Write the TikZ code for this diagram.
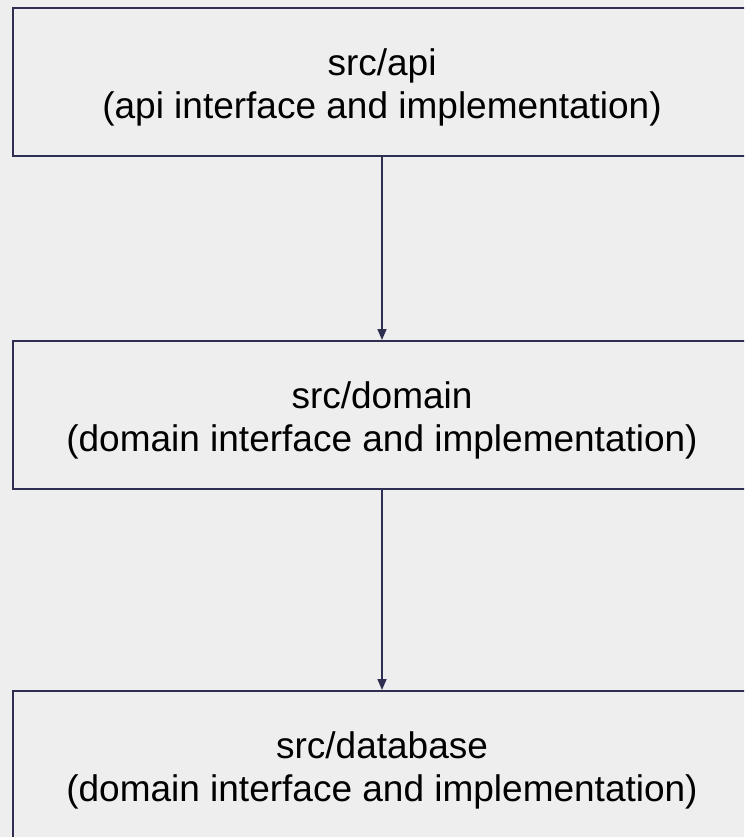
\documentclass[tikz,border=0pt]{standalone}
\usepackage{fontspec}
\setmainfont{Liberation Sans}
\usetikzlibrary{arrows.meta}
\definecolor{bg}{HTML}{EEEEEE}
\definecolor{edge}{HTML}{2E2E50}
\tikzset{
  layer/.style={draw=edge, line width=2pt, fill=bg, minimum width=739pt, minimum height=148pt, inner sep=0pt},
  lbl/.style={inner sep=0pt, align=center, font=\fontsize{37}{43}\selectfont, text=black},
  link/.style={draw=edge, line width=1.6pt, -{Triangle[length=11pt,width=9pt]}}
}
\begin{document}
\begin{tikzpicture}[x=1pt,y=-1pt]
\useasboundingbox (0,0) rectangle (744,837);
\fill[bg] (0,0) rectangle (744,837);
\clip (0,0) rectangle (744,837);
\node[layer] (api) at (382,82.5) {};
\node[layer] (domain) at (382,415) {};
\node[layer] (db) at (382,765) {};
\node[lbl] (apitext) at ([yshift=-5pt]api.center) {src/api\\(api interface and implementation)};
\node[lbl] (domaintext) at ([yshift=-5pt]domain.center) {src/domain\\(domain interface and implementation)};
\node[lbl] (dbtext) at ([yshift=-5pt]db.center) {src/database\\(domain interface and implementation)};
\draw[link] (api.south) -- (domain.north);
\draw[link] (domain.south) -- (db.north);
\end{tikzpicture}
\end{document}
